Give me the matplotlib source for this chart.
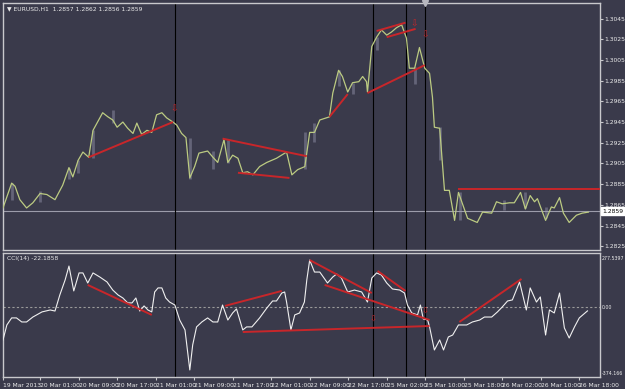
import numpy as np
import matplotlib
matplotlib.use("Agg")
from matplotlib import pyplot as plt

# price line (bar index, close)
price_x = [0, 1.8, 2.5, 3.5, 4.9, 6.2, 7.7, 9.1, 10.8, 12.4, 13.7, 14.5, 15.6, 16.6, 17.8,
           18.7, 20.7, 21.8, 22.8, 23.7, 24.9, 25.9, 27.0, 27.8, 28.8, 29.9, 30.9, 31.9, 33.0,
           34.0, 35.3, 36.1, 37.1, 38.0, 38.8, 39.8, 40.7, 42.5, 43.6, 44.6, 45.9, 46.7, 47.7,
           48.8, 49.8, 50.8, 51.9, 53.3, 54.8, 56.8, 58.9, 60.0, 61.2, 62.7, 63.7, 64.7, 65.8,
           67.8, 68.5, 69.7, 70.5, 71.6, 72.6, 73.9, 74.7, 75.5, 75.7, 76.6, 77.6, 78.6, 79.7,
           80.7, 81.7, 82.8, 83.8, 84.4, 85.5, 86.5, 87.6, 88.6, 89.2, 89.6, 90.7, 91.7, 92.7,
           93.8, 94.6, 96.5, 98.5, 99.6, 101.5, 102.5, 103.7, 105.2, 106.2, 107.5, 108.5, 109.5,
           110.4, 111.0, 112.7, 113.9, 114.5, 115.6, 116.4, 117.6, 119.1, 120.3, 121.6]
price_y = [1.2862, 1.2886, 1.2883, 1.2870, 1.2862, 1.2867, 1.2876, 1.2875, 1.2870, 1.2884,
           1.2901, 1.2892, 1.2908, 1.2916, 1.2911, 1.2937, 1.2954, 1.2950, 1.2947, 1.2940,
           1.2945, 1.2939, 1.2934, 1.2944, 1.2933, 1.2937, 1.2935, 1.2952, 1.2954, 1.2949,
           1.2945, 1.2942, 1.2934, 1.2930, 1.2891, 1.2902, 1.2915, 1.2917, 1.2911, 1.2906,
           1.2928, 1.2906, 1.2913, 1.2910, 1.2896, 1.2897, 1.2894, 1.2902, 1.2906, 1.2910,
           1.2916, 1.2894, 1.2899, 1.2902, 1.2935, 1.2935, 1.2947, 1.2950, 1.2973, 1.2995,
           1.2989, 1.2974, 1.2983, 1.2984, 1.2989, 1.2984, 1.2974, 1.3018, 1.3027, 1.3034,
           1.3029, 1.3032, 1.3036, 1.3039, 1.3026, 1.2997, 1.2997, 1.3017, 1.2997, 1.2992,
           1.2969, 1.2940, 1.2939, 1.2879, 1.2879, 1.2850, 1.2877, 1.2852, 1.2848, 1.2858,
           1.2857, 1.2868, 1.2866, 1.2867, 1.2867, 1.2877, 1.2861, 1.2874, 1.2868, 1.2871,
           1.2850, 1.2863, 1.2862, 1.2872, 1.2857, 1.2848, 1.2855, 1.2857, 1.2858]

# grey candle bodies visible behind the line (bar index, low, high)
candle_x = [1.8, 7.7, 13.7, 15.6, 18.7, 22.8, 38.8, 43.6, 46.7, 62.7, 64.7, 69.7, 72.6,
            77.6, 85.5, 90.7, 95.0, 104.0, 108.5, 112.7]
candle_lo = [1.2870, 1.2868, 1.2890, 1.2896, 1.2910, 1.2944, 1.2890, 1.2900, 1.2905, 1.2900,
             1.2926, 1.2980, 1.2972, 1.3015, 1.2982, 1.2908, 1.2850, 1.2860, 1.2862, 1.2852]
candle_hi = [1.2886, 1.2878, 1.2901, 1.2908, 1.2937, 1.2957, 1.2930, 1.2917, 1.2928, 1.2935,
             1.2944, 1.2995, 1.2983, 1.3027, 1.2998, 1.2940, 1.2877, 1.2870, 1.2877, 1.2863]

# CCI(14)
cci_x = [0, 0.8, 1.8, 2.8, 3.9, 4.9, 6.2, 8.1, 9.8, 10.8, 11.8, 12.9, 13.7, 14.7, 15.8, 16.6,
         17.6, 18.7, 20.1, 21.6, 22.8, 23.9, 24.9, 25.9, 26.8, 27.6, 28.4, 29.3, 30.1, 30.9,
         31.5, 32.2, 33.0, 33.8, 34.6, 35.7, 36.7, 37.8, 38.8, 39.4, 40.2, 41.3, 42.5, 43.6,
         44.6, 45.6, 46.7, 47.7, 48.5, 49.8, 50.6, 51.7, 53.3, 54.8, 56.0, 56.8, 57.9, 58.5,
         58.9, 59.8, 60.6, 61.6, 62.6, 63.1, 63.7, 64.7, 65.8, 67.4, 68.5, 69.3, 70.3, 71.6,
         73.0, 74.5, 75.7, 76.6, 77.6, 78.6, 79.7, 80.9, 82.4, 83.4, 84.0, 84.9, 86.1, 86.7,
         87.3, 88.2, 88.6, 89.6, 90.7, 91.5, 92.5, 93.4, 94.6, 96.3, 97.5, 99.0, 100.0, 101.5,
         102.7, 103.7, 104.8, 105.8, 107.3, 108.7, 109.5, 110.8, 111.6, 112.7, 113.5, 114.5,
         115.6, 116.6, 117.6, 118.7, 119.7, 121.4]
cci_y = [-187, -102, -62, -62, -85, -85, -57, -28, -17, -23, 68, 153, 232, 91, 193, 193,
         136, 193, 170, 142, 96, 68, 51, 23, 23, 51, -23, 6, -17, -28,
         85, 108, 108, 51, 28, 11, -74, -130, -357, -215, -113, -85, -62, -85,
         -85, 11, -74, -34, -11, -130, -113, -113, -62, -6, 34, 34, 79, 85,
         28, -130, -45, -34, 28, 153, 266, 198, 198, 136, 170, 187, 164, 85,
         96, 85, 28, 164, 193, 181, 136, 102, 96, 79, 11, -34, -45, 11,
         -68, -74, -113, -244, -187, -244, -170, -159, -102, -102, -85, -74, -57, -57,
         -28, 0, 34, 40, 142, -17, 108, 28, 57, -159, -17, -34,
         79, -119, -176, -113, -62, -22.1858]

# hand drawn trend lines: (x0, y0, x1, y1)
price_trends = [(17.8, 1.2911, 35.3, 1.2945), (45.6, 1.2929, 63.1, 1.2912),
                (48.8, 1.2896, 59.5, 1.2891), (67.8, 1.2950, 71.6, 1.2972),
                (75.7, 1.2973, 87.6, 1.3000), (77.6, 1.3033, 83.6, 1.3041),
                (79.7, 1.3027, 85.7, 1.3035), (94.6, 1.2880, 124.0, 1.2880)]
cci_trends = [(17.6, 125, 30.9, -45), (46.1, 6, 57.9, 91), (49.8, -142, 88.6, -108),
              (63.7, 266, 76.6, 79), (66.8, 125, 88.6, -74), (77.8, 204, 83.6, 91),
              (94.8, -85, 107.7, 159)]
vlines = [35.7, 76.8, 83.8, 87.6]
price_arrows = [(35.5, 1.2958), (85.5, 1.3040), (87.6, 1.3029)]
cci_arrows = [(76.8, -68), (87.6, -23)]

time_ticks = [0.1] + [7.7 + 8 * k for k in range(15)]
time_labels = ["19 Mar 2013", "20 Mar 01:00", "20 Mar 09:00", "20 Mar 17:00", "21 Mar 01:00",
               "21 Mar 09:00", "21 Mar 17:00", "22 Mar 01:00", "22 Mar 09:00", "22 Mar 17:00",
               "25 Mar 02:00", "25 Mar 10:00", "25 Mar 18:00", "26 Mar 02:00", "26 Mar 10:00",
               "26 Mar 18:00"]
price_ticks = [1.3045 - 0.002 * k for k in range(12)]

bg = "#3a3a4b"
frame = "#c8c8cc"
txt = "#ececec"
red = "#c8262a"
fs = 4.3

fig = plt.figure(figsize=(6.25, 3.89), dpi=100)
fig.patch.set_facecolor(bg)
ax1 = fig.add_axes([3 / 625, 1 - 250 / 389, 597 / 625, 247 / 389])
ax2 = fig.add_axes([3 / 625, 1 - 377 / 389, 597 / 625, 124 / 389])

for ax in (ax1, ax2):
    ax.set_facecolor(bg)
    for s in ax.spines.values():
        s.set_color(frame)
        s.set_linewidth(1.0)
    ax.set_xlim(0, 124)
    ax.yaxis.tick_right()
    ax.tick_params(axis="y", colors=frame, labelcolor=txt, labelsize=fs, length=2, pad=1)
    for v in vlines:
        ax.axvline(v, color="black", lw=0.8, zorder=2)

# price pane
ax1.set_ylim(1.28214, 1.3060)
ax1.vlines(candle_x, candle_lo, candle_hi, color="#646478", lw=2.0, zorder=1)
ax1.axhline(1.2859, color="#9c9cab", lw=0.8, zorder=1)
ax1.plot(price_x, price_y, color="#bccb82", lw=0.9, zorder=3)
for x0, y0, x1, y1 in price_trends:
    ax1.plot([x0, x1], [y0, y1], color=red, lw=1.4, zorder=4, solid_capstyle="butt")
for x, y in price_arrows:
    ax1.text(x, y, "\u21e9", color=red, fontsize=6.5, ha="center", va="center", zorder=5)
ax1.set_yticks(price_ticks)
ax1.set_yticklabels(["%.4f" % v for v in price_ticks])
ax1.set_xticks([])
ax1.text(124.5, 1.2859, "1.2859", fontsize=fs, color="black", va="center", ha="left",
         bbox=dict(boxstyle="square,pad=0.2", fc="white", ec="white"), clip_on=False)
ax1.text(0.006, 0.985, "\u25bc EURUSD,H1  1.2857 1.2862 1.2856 1.2859", transform=ax1.transAxes,
         color=txt, fontsize=fs, va="top", ha="left")
ax1.plot([87.6], [1.3060], marker="v", color="#b8b8c0", ms=4, clip_on=False, zorder=6)

# CCI pane
ax2.set_ylim(-397, 306)
ax2.axhline(0, color="#9a9a9a", lw=0.8, ls=(0, (2, 2)), zorder=1)
ax2.plot(cci_x, cci_y, color="#f0f0f0", lw=0.8, zorder=3)
for x0, y0, x1, y1 in cci_trends:
    ax2.plot([x0, x1], [y0, y1], color=red, lw=1.4, zorder=4, solid_capstyle="butt")
for x, y in cci_arrows:
    ax2.text(x, y, "\u21e9", color=red, fontsize=6, ha="center", va="center", zorder=5)
ax2.set_yticks([277.5397, 0, -374.166])
ax2.set_yticklabels(["277.5397", "0.00", "-374.166"])
ax2.tick_params(axis="y", length=0, pad=1.5, labelsize=3.4)
ax2.text(0.006, 0.975, "CCI(14) -22.1858", transform=ax2.transAxes,
         color=txt, fontsize=fs, va="top", ha="left")
ax2.set_xticks(time_ticks)
ax2.set_xticklabels(time_labels)
ax2.tick_params(axis="x", colors=frame, labelcolor=txt, labelsize=fs, length=2.5, pad=1.5)
for lab in ax2.get_xticklabels():
    lab.set_horizontalalignment("left")

fig.savefig("out.png", dpi=100, facecolor=bg)
